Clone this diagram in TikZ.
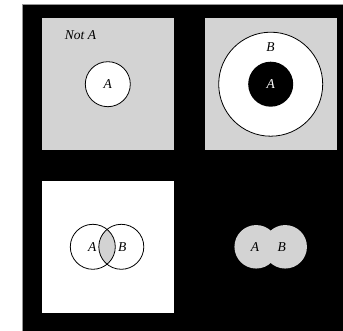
\documentclass[tikz,border=0pt]{standalone}
\usepackage{fontspec}
\setmainfont{Liberation Serif}
\definecolor{lgray}{RGB}{211,211,211}
\definecolor{edgegray}{RGB}{150,150,150}
\begin{document}
\begin{tikzpicture}[x=1pt,y=-1pt,
  lbl/.style={font=\fontsize{13.5}{15}\selectfont\itshape, inner sep=0pt},
  ring/.style={circle, draw=black, line width=0.8pt, inner sep=0pt},
  panel/.style={draw=none, inner sep=0pt, minimum width=132pt, minimum height=132pt}]
\useasboundingbox (0,0) rectangle (343,331);
% background
\fill[black] (22.5,4) rectangle (343,331);
\draw[edgegray, line width=0.6pt] (22.5,331) -- (22.5,4) -- (343,4);
% panels
\node[panel, fill=lgray] (p1) at (107.7,84.2) {};
\node[panel, fill=lgray] (p2) at (270.7,84.2) {};
\node[panel, fill=white] (p3) at (107.7,246.8) {};
% panel 1
\node[lbl] (nota) at (80.5,35) {Not A};
\node[ring, fill=white, minimum size=45pt] (a1) at (107.8,84.2) {};
\node[lbl] at (a1.center) {A};
% panel 2
\node[ring, fill=white, minimum size=104pt] (b2) at (270.7,84.2) {};
\node[circle, fill=black, inner sep=0pt, minimum size=45pt] (a2) at (270.7,84.2) {};
\node[lbl, text=white] at (a2.center) {A};
\node[lbl] (blab2) at (270.5,46.7) {B};
% panel 3
\begin{scope}
  \clip (92.8,246.8) circle (22.5);
  \fill[lgray] (121.3,246.8) circle (22.5);
\end{scope}
\node[ring, minimum size=45pt] (a3) at (92.8,246.8) {};
\node[ring, minimum size=45pt] (b3) at (121.3,246.8) {};
\node[lbl] at (92.3,246.8) {A};
\node[lbl] at (122.2,246.8) {B};
% panel 4
\node[circle, fill=lgray, inner sep=0pt, minimum size=43.5pt] (a4) at (256.2,246.8) {};
\node[circle, fill=lgray, inner sep=0pt, minimum size=43.5pt] (b4) at (285.2,246.8) {};
\node[lbl] at (255,246.8) {A};
\node[lbl] at (281.7,246.8) {B};
\end{tikzpicture}
\end{document}
